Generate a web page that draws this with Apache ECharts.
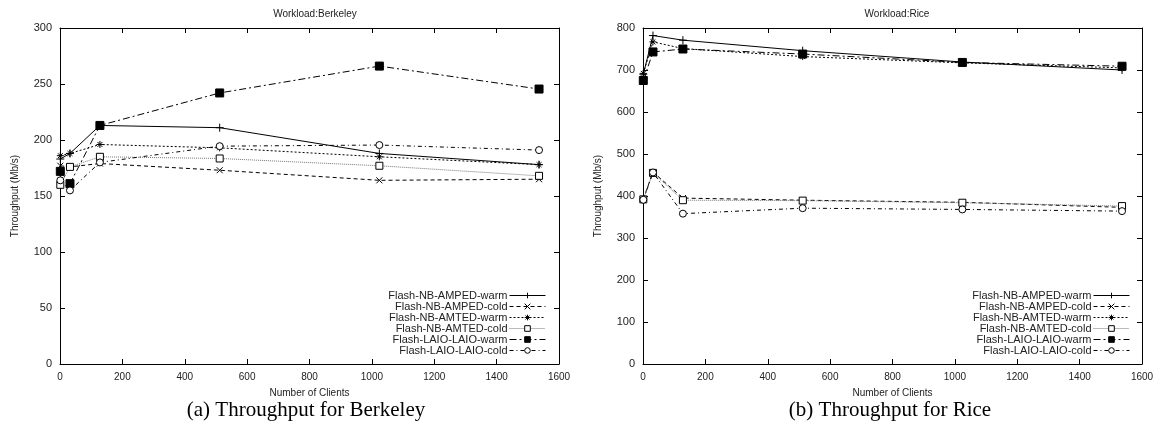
<!DOCTYPE html>
<html>
<head>
<meta charset="utf-8">
<script src="https://cdn.jsdelivr.net/npm/echarts@6/dist/echarts.min.js"></script>
<style>
  html, body { margin: 0; padding: 0; background: #fff; }
  #chart { width: 1161px; height: 425px; }
</style>
</head>
<body>
<div id="chart"></div>
<script>
var chartDom = document.getElementById('chart');
var myChart = echarts.init(chartDom);

// number of clients (x)
var clients = [1, 32, 128, 512, 1024, 1536];
var names = ['Flash-NB-AMPED-warm', 'Flash-NB-AMPED-cold', 'Flash-NB-AMTED-warm',
             'Flash-NB-AMTED-cold', 'Flash-LAIO-LAIO-warm', 'Flash-LAIO-LAIO-cold'];

// Berkeley throughput (Mb/s)
var bkAmpedWarm = [183, 188, 213, 211, 188, 178];
var bkAmpedCold = [177, 176, 179, 173, 164, 165];
var bkAmtedWarm = [186, 188, 196, 193, 185, 178];
var bkAmtedCold = [160, 176, 185, 183.5, 177, 168];
var bkLaioWarm = [172, 161, 213, 242, 266, 245.5];
var bkLaioCold = [164, 155, 180, 194.5, 195.5, 191];

// Rice throughput (Mb/s)
var rcAmpedWarm = [690, 782, 771, 746, 719, 700];
var rcAmpedCold = [393, 457, 395, 390, 385, 373];
var rcAmtedWarm = [692, 767, 751, 732, 717, 705];
var rcAmtedCold = [392, 455, 390, 389, 384, 376];
var rcLaioWarm = [675, 743, 750, 738, 718, 709];
var rcLaioCold = [391, 456, 358, 371, 368, 364];

var font = 'Liberation Sans';
var txt = '#222';

// gnuplot-ish styles for each series
var styles = [
  { symbol: 'path://M0,5L10,5M5,0L5,10', size: 8, fill: '#000', line: 'solid', color: '#000' },
  { symbol: 'path://M0,0L10,10M0,10L10,0', size: 6, fill: '#000', line: [4, 3], color: '#000' },
  { symbol: 'path://M0,5L10,5M5,0L5,10M1.5,1.5L8.5,8.5M1.5,8.5L8.5,1.5', size: 7, fill: '#000', line: [2, 2], color: '#000' },
  { symbol: 'rect', size: 7, fill: '#fff', line: [1, 1], color: '#777' },
  { symbol: 'rect', size: 8, fill: '#000', line: [7, 3, 2, 3], color: '#000' },
  { symbol: 'circle', size: 7, fill: '#fff', line: [4, 3, 1, 3], color: '#000' }
];

function makeSeries(values, idx, axis) {
  var st = styles[idx];
  var pts = [];
  for (var i = 0; i < clients.length; i++) {
    pts.push([clients[i], values[i]]);
  }
  return {
    name: names[idx],
    type: 'line',
    xAxisIndex: axis,
    yAxisIndex: axis,
    data: pts,
    symbol: st.symbol,
    symbolSize: st.size,
    showAllSymbol: true,
    animation: false,
    lineStyle: { color: st.color, width: 1, type: st.line },
    itemStyle: { color: st.fill, borderColor: '#000', borderWidth: 1 },
    emphasis: { disabled: true },
    z: 3
  };
}

function xAxisFor(grid, top) {
  return {
    type: 'value', gridIndex: grid, min: 0, max: 1600, interval: 200,
    position: top ? 'top' : 'bottom',
    name: top ? '' : 'Number of Clients',
    nameLocation: 'middle', nameGap: 24,
    nameTextStyle: { fontFamily: font, fontSize: 10, color: txt },
    axisLine: { show: true, onZero: false, lineStyle: { color: '#000', width: 1 } },
    axisTick: { show: true, inside: true, length: 5, lineStyle: { color: '#000' } },
    axisLabel: { show: !top, fontFamily: font, fontSize: 10, color: txt, margin: 8,
                 formatter: function (v) { return String(v); } },
    splitLine: { show: false }
  };
}

function yAxisFor(grid, max, step, right) {
  return {
    type: 'value', gridIndex: grid, min: 0, max: max, interval: step,
    position: right ? 'right' : 'left',
    name: right ? '' : 'Throughput (Mb/s)',
    nameLocation: 'middle', nameGap: 40, nameRotate: 90,
    nameTextStyle: { fontFamily: font, fontSize: 10, color: txt },
    axisLine: { show: true, onZero: false, lineStyle: { color: '#000', width: 1 } },
    axisTick: { show: true, inside: true, length: 5, lineStyle: { color: '#000' } },
    axisLabel: { show: !right, fontFamily: font, fontSize: 11, color: txt, margin: 8 },
    splitLine: { show: false }
  };
}

function legendFor(rightPx) {
  return {
    orient: 'vertical', right: rightPx, top: 290, align: 'right',
    data: names, itemWidth: 36, itemHeight: 7, itemGap: 0,
    selectedMode: false,
    lineStyle: { width: 1 },
    itemStyle: { borderWidth: 1 },
    textStyle: { fontFamily: font, fontSize: 11, color: txt, lineHeight: 11, padding: [0, -3, 0, 0] },
    padding: 0
  };
}

var series = [];
[bkAmpedWarm, bkAmpedCold, bkAmtedWarm, bkAmtedCold, bkLaioWarm, bkLaioCold].forEach(function (v, i) {
  series.push(makeSeries(v, i, 0));
});
[rcAmpedWarm, rcAmpedCold, rcAmtedWarm, rcAmtedCold, rcLaioWarm, rcLaioCold].forEach(function (v, i) {
  series.push(makeSeries(v, i, 1));
});

var option = {
  backgroundColor: '#fff',
  animation: false,
  title: [
    { text: 'Workload:Berkeley', left: 310, top: 4, textAlign: 'center',
      textStyle: { fontFamily: font, fontSize: 10, fontWeight: 'normal', color: txt } },
    { text: 'Workload:Rice', left: 892, top: 4, textAlign: 'center',
      textStyle: { fontFamily: font, fontSize: 10, fontWeight: 'normal', color: txt } },
    { text: '(a) Throughput for Berkeley', left: 301, top: 395, textAlign: 'center',
      textStyle: { fontFamily: 'Liberation Serif', fontSize: 21, fontWeight: 'normal', color: '#000' } },
    { text: '(b) Throughput for Rice', left: 885, top: 395, textAlign: 'center',
      textStyle: { fontFamily: 'Liberation Serif', fontSize: 21, fontWeight: 'normal', color: '#000' } }
  ],
  legend: [legendFor(615), legendFor(31)],
  grid: [
    { left: 60, top: 28, width: 499, height: 336 },
    { left: 643, top: 28, width: 499, height: 336 }
  ],
  xAxis: [xAxisFor(0, false), xAxisFor(1, false), xAxisFor(0, true), xAxisFor(1, true)],
  yAxis: [yAxisFor(0, 300, 50, false), yAxisFor(1, 800, 100, false),
          yAxisFor(0, 300, 50, true), yAxisFor(1, 800, 100, true)],
  series: series
};

option && myChart.setOption(option);
</script>
</body>
</html>
